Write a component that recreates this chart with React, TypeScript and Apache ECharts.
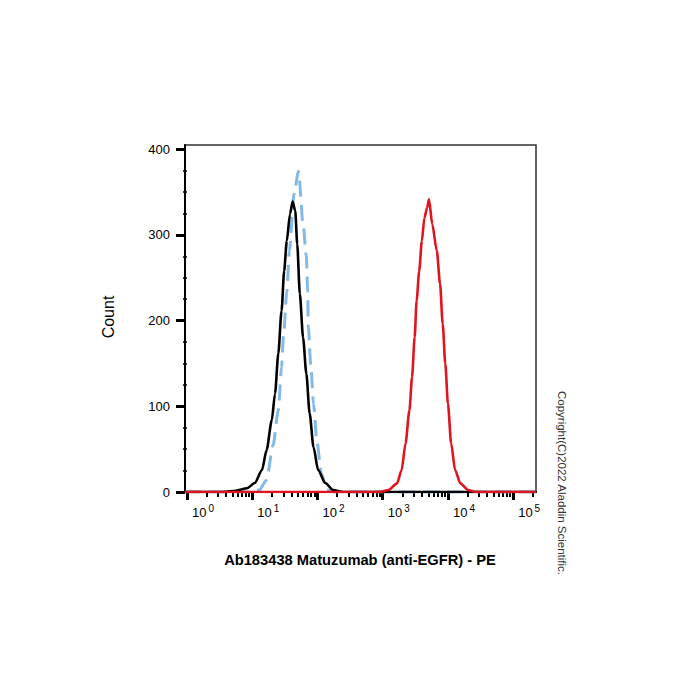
import React, { useEffect, useRef } from 'react';
import * as echarts from 'echarts';

// x values are log10 of fluorescence intensity (PE), y values are event counts
const controlLog = [-0.03, 0.55, 0.75, 0.92, 1.04, 1.15, 1.22, 1.3, 1.35, 1.4, 1.45, 1.49, 1.53, 1.58, 1.62, 1.66, 1.69, 1.73, 1.78, 1.83, 1.88, 1.94, 2.01, 2.12, 2.24, 2.39, 5.35];
const controlCount = [0, 0, 1.5, 4.3, 10.5, 25.6, 48.8, 83.7, 115, 161.6, 211.6, 258, 293, 324.8, 339, 327.9, 289.5, 231.4, 180, 138, 91.9, 52.3, 25.6, 10.5, 2.3, 0, 0];

const isotypeLog = [-0.03, 0.95, 1.11, 1.22, 1.32, 1.4, 1.45, 1.48, 1.53, 1.57, 1.64, 1.71, 1.78, 1.83, 1.85, 1.86, 1.9, 1.94, 1.99, 2.06, 2.14, 2.27, 5.35];
const isotypeCount = [0, 0, 2.3, 14, 54.7, 95.3, 145.7, 182.6, 233, 281.4, 347.3, 374.4, 312.4, 275.6, 234.9, 192.2, 145.7, 103.1, 60.5, 21.7, 2.3, 0, 0];

const stainedLog = [-0.03, 2.95, 3.09, 3.22, 3.29, 3.35, 3.41, 3.45, 3.49, 3.52, 3.56, 3.6, 3.64, 3.68, 3.71, 3.76, 3.83, 3.88, 3.92, 3.96, 4.0, 4.05, 4.11, 4.19, 4.31, 4.42, 5.35];
const stainedCount = [0, 0, 2.3, 10.1, 25.6, 56.6, 95.3, 134, 180.6, 223.3, 258.1, 293, 320, 331.7, 341.5, 312.4, 281.4, 242.6, 196.1, 149.6, 103.1, 56.6, 25.6, 10.1, 2.3, 0, 0];

const yTicks = [0, 100, 200, 300, 400];
const yMinorTicks = [25, 50, 75, 125, 150, 175, 225, 250, 275, 325, 350, 375];
const xDecades = [0, 1, 2, 3, 4, 5];
const xMinorMultipliers = [2, 3, 4, 5, 6, 7, 8, 9];

const X_MIN = -0.03;
const X_MAX = 5.35;
const Y_MAX = 405;

const FONT = "'Liberation Sans', Arial, Helvetica, sans-serif";

function zip(xs: number[], ys: number[]) {
  return xs.map((x, i) => [x, ys[i]]);
}

export default function App() {
  const ref = useRef<HTMLDivElement>(null);

  useEffect(() => {
    const chart = echarts.init(ref.current!, null, { renderer: 'svg' });

    const xMinor: number[] = [];
    xDecades.forEach((d) => {
      xMinorMultipliers.forEach((m) => {
        const v = d + Math.log10(m);
        if (v <= X_MAX) xMinor.push(v);
      });
    });

    const option: any = {
      animation: false,
      backgroundColor: '#ffffff',
      grid: {
        left: 185,
        top: 145,
        right: 164,
        bottom: 208,
        show: true,
        borderColor: '#333333',
        borderWidth: 1.5,
        backgroundColor: 'transparent',
      },
      xAxis: [
        {
          type: 'value',
          min: X_MIN,
          max: X_MAX,
          axisLine: { show: true, onZero: false, lineStyle: { color: '#000', width: 2 } },
          axisTick: {
            show: true,
            customValues: xDecades,
            length: 8,
            lineStyle: { color: '#000', width: 3 },
          },
          axisLabel: {
            show: true,
            customValues: xDecades,
            margin: 11,
            align: 'left',
            formatter: (v: number) => `{b|10}{s|${Math.round(v)}}`,
            rich: {
              b: { fontSize: 13, fontFamily: FONT, color: '#000', padding: [0, 0, 0, 5] },
              s: { fontSize: 10, fontFamily: FONT, color: '#000', padding: [0, 0, 9, 2] },
            },
          },
          splitLine: { show: false },
        },
        {
          type: 'value',
          min: X_MIN,
          max: X_MAX,
          position: 'bottom',
          axisLine: { show: false },
          axisTick: {
            show: true,
            customValues: xMinor,
            length: 5,
            lineStyle: { color: '#000', width: 2 },
          },
          axisLabel: { show: false },
          splitLine: { show: false },
        },
      ],
      yAxis: [
        {
          type: 'value',
          min: 0,
          max: Y_MAX,
          axisLine: { show: true, onZero: false, lineStyle: { color: '#000', width: 2 } },
          axisTick: {
            show: true,
            customValues: yTicks,
            length: 9,
            lineStyle: { color: '#000', width: 3 },
          },
          axisLabel: {
            show: true,
            customValues: yTicks,
            margin: 15,
            fontSize: 13,
            fontFamily: FONT,
            color: '#000',
          },
          splitLine: { show: false },
        },
        {
          type: 'value',
          min: 0,
          max: Y_MAX,
          position: 'left',
          axisLine: { show: false },
          axisTick: {
            show: true,
            customValues: yMinorTicks,
            length: 4,
            lineStyle: { color: '#000', width: 1.5 },
          },
          axisLabel: { show: false },
          splitLine: { show: false },
        },
      ],
      series: [
        {
          name: 'Isotype',
          type: 'line',
          data: zip(isotypeLog, isotypeCount),
          showSymbol: false,
          smooth: 0.25,
          smoothMonotone: 'x',
          lineStyle: { color: '#84b9e6', width: 3, type: [16, 8] },
          z: 3,
        },
        {
          name: 'Control',
          type: 'line',
          data: zip(controlLog, controlCount),
          showSymbol: false,
          smooth: 0.25,
          smoothMonotone: 'x',
          lineStyle: { color: '#000000', width: 2.6 },
          z: 4,
        },
        {
          name: 'Matuzumab',
          type: 'line',
          data: zip(stainedLog, stainedCount),
          showSymbol: false,
          smooth: 0.25,
          smoothMonotone: 'x',
          lineStyle: { color: '#e0141e', width: 2.6 },
          z: 5,
        },
      ],
      graphic: [
        {
          type: 'text',
          x: 108,
          y: 317,
          rotation: Math.PI / 2,
          style: {
            text: 'Count',
            font: `16px ${FONT}`,
            fill: '#000',
            textAlign: 'center',
            textVerticalAlign: 'middle',
          },
        },
        {
          type: 'text',
          x: 360,
          y: 560,
          style: {
            text: 'Ab183438 Matuzumab (anti-EGFR) - PE',
            font: `bold 14.7px ${FONT}`,
            fill: '#000',
            textAlign: 'center',
            textVerticalAlign: 'middle',
          },
        },
        {
          type: 'text',
          x: 562,
          y: 483,
          rotation: -Math.PI / 2,
          style: {
            text: 'Copyright(C)2022 Aladdin Scientific.',
            font: `11.5px ${FONT}`,
            fill: '#333',
            textAlign: 'center',
            textVerticalAlign: 'middle',
          },
        },
      ],
    };

    chart.setOption(option);
    return () => chart.dispose();
  }, []);

  return (
    <div
      ref={ref}
      style={{ position: 'fixed', left: 0, top: 0, width: 700, height: 700, background: '#fff' }}
    />
  );
}
